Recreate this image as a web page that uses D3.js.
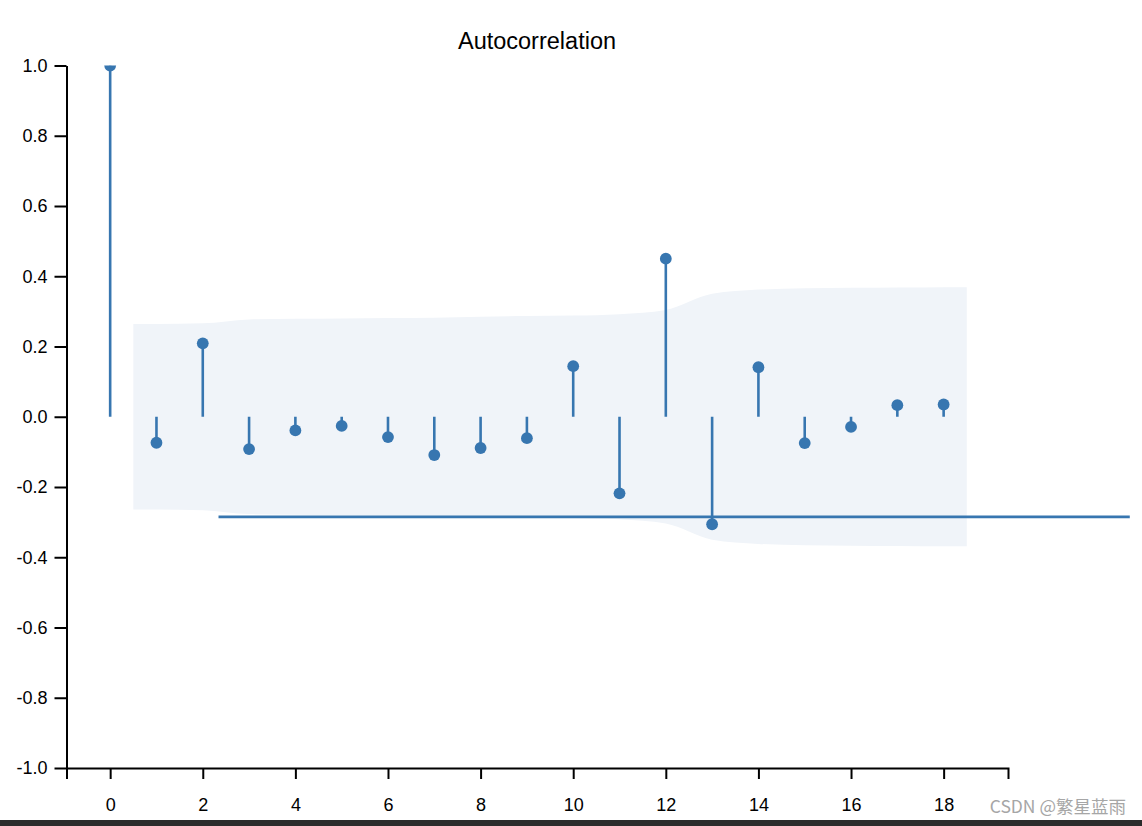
<!DOCTYPE html>
<html>
<head>
<meta charset="utf-8">
<script src="https://cdn.jsdelivr.net/npm/d3@7"></script>
<style>
  html, body { margin: 0; padding: 0; background: #fff; }
  svg { display: block; }
  text { font-family: "Liberation Sans", Arial, Helvetica, sans-serif; }
</style>
</head>
<body>
<script>
// ---- data ----
const lags = [0,1,2,3,4,5,6,7,8,9,10,11,12,13,14,15,16,17,18];
const acfValues = [1.0,-0.074,0.209,-0.092,-0.039,-0.026,-0.058,-0.109,-0.089,-0.061,0.144,-0.218,0.450,-0.306,0.141,-0.075,-0.029,0.033,0.035];
const bandLags = [0.5,1,2,3,4,5,6,7,8,9,10,11,12,13,14,15,16,17,18,18.5];
const bandValues = [0.264,0.264,0.266,0.277,0.279,0.280,0.281,0.282,0.285,0.287,0.288,0.292,0.304,0.350,0.362,0.366,0.367,0.368,0.369,0.369];
const refLineValue = -0.285;
const refLineLags = [2.34, 22.02];
const xTicks = [0,2,4,6,8,10,12,14,16,18];
const yTicks = [-1.0,-0.8,-0.6,-0.4,-0.2,0.0,0.2,0.4,0.6,0.8,1.0];
const titleText = "Autocorrelation";
const watermark = "CSDN @繁星蓝雨";

// ---- layout ----
const W = 1142, H = 826;
const color = "#3776b0";
const svg = d3.select("body").append("svg").attr("width", W).attr("height", H);

const x = d3.scaleLinear().domain([-0.943, 19.39]).range([66.5, 1008]);
const y = d3.scaleLinear().domain([-1, 1]).range([768, 65.5]);

svg.append("defs").append("clipPath").attr("id", "clip")
  .append("rect").attr("x", 0).attr("y", y(1)).attr("width", W).attr("height", y(-1) - y(1));

const plot = svg.append("g").attr("clip-path", "url(#clip)");

// confidence band
const bandData = bandLags.map((l, i) => ({ l, v: bandValues[i] }));
plot.append("path")
  .datum(bandData)
  .attr("fill", "#f0f4f9")
  .attr("d", d3.area().curve(d3.curveMonotoneX)
    .x(d => x(d.l)).y0(d => y(-d.v)).y1(d => y(d.v)));

// reference horizontal line
svg.append("line")
  .attr("x1", x(refLineLags[0])).attr("x2", x(refLineLags[1]))
  .attr("y1", y(refLineValue)).attr("y2", y(refLineValue))
  .attr("stroke", color).attr("stroke-width", 2.6);

// stems
plot.selectAll("line.stem").data(lags).enter().append("line")
  .attr("class", "stem")
  .attr("x1", d => x(d)).attr("x2", d => x(d))
  .attr("y1", y(0)).attr("y2", (d, i) => y(acfValues[i]))
  .attr("stroke", color).attr("stroke-width", 2.6);

// dots
plot.selectAll("circle.dot").data(lags).enter().append("circle")
  .attr("class", "dot")
  .attr("cx", d => x(d)).attr("cy", (d, i) => y(acfValues[i]))
  .attr("r", 5.9).attr("fill", color);

// axes
const fmtY = d => d3.format(".1f")(d).replace("\u2212", "-");
const xAxis = svg.append("g").attr("transform", `translate(0,${y(-1)})`)
  .call(d3.axisBottom(x).tickValues(xTicks).tickFormat(d3.format("d")).tickSize(11).tickSizeOuter(11).tickPadding(19));
const yAxis = svg.append("g").attr("transform", `translate(${x.range()[0]},0)`)
  .call(d3.axisLeft(y).tickValues(yTicks).tickFormat(fmtY).tickSize(12).tickSizeOuter(0).tickPadding(7));
[xAxis, yAxis].forEach(g => {
  g.selectAll("path, line").attr("stroke", "#000").attr("stroke-width", 2);
  g.selectAll("text").attr("fill", "#000").style("font-size", "18px")
    .style("font-family", '"Liberation Sans", Arial, sans-serif');
});

// title
svg.append("text")
  .attr("x", 537).attr("y", 48.5)
  .attr("text-anchor", "middle")
  .style("font-size", "23.5px")
  .attr("fill", "#000")
  .text(titleText);

// watermark
svg.append("text")
  .attr("x", 1126).attr("y", 813)
  .attr("text-anchor", "end")
  .style("font-family", '"Noto Sans CJK SC", "Liberation Sans", sans-serif')
  .style("font-size", "17.5px")
  .attr("fill", "#a6a6a6")
  .text(watermark);

// bottom dark strip
svg.append("rect").attr("x", 0).attr("y", 820).attr("width", W).attr("height", 6).attr("fill", "#2b2b2b");
</script>
</body>
</html>
